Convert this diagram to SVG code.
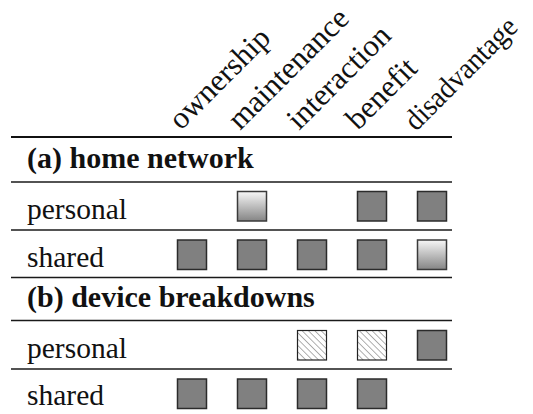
<svg xmlns="http://www.w3.org/2000/svg" width="533" height="414" viewBox="0 0 533 414">
  <defs>
    <linearGradient id="partial" x1="0" y1="0" x2="0" y2="1">
      <stop offset="0" stop-color="#f7f7f7"/>
      <stop offset="1" stop-color="#858585"/>
    </linearGradient>
    <pattern id="hatch" patternUnits="userSpaceOnUse" width="4.5" height="4.5" patternTransform="rotate(45)">
      <rect width="4.5" height="4.5" fill="#ffffff"/>
      <line x1="0" y1="2.25" x2="4.5" y2="2.25" stroke="#a8a8a8" stroke-width="0.9"/>
    </pattern>
  </defs>
  <style>
    text { font-family: 'Liberation Serif', 'Times New Roman', Times, serif; fill: #111; }
    .lbl { font-size: 29.5px; }
    .hdr { font-size: 30px; font-weight: bold; }
    .col { font-size: 31px; }
    .rule { stroke: #1a1a1a; stroke-width: 1.3; }
    .toprule { stroke: #111; stroke-width: 2.2; }
    .full { fill: #808080; stroke: #2b2b2b; stroke-width: 1.5; }
    .part { fill: url(#partial); stroke: #3a3a3a; stroke-width: 1.5; }
    .hatched { fill: url(#hatch); stroke: #222; stroke-width: 1.2; }
  </style>

  <!-- rotated column headings -->
  <g id="columns">
    <text class="col" transform="translate(181,131) rotate(-45)">ownership</text>
    <text class="col" transform="translate(240,131) rotate(-45)">maintenance</text>
    <text class="col" transform="translate(299,131) rotate(-45)">interaction</text>
    <text class="col" transform="translate(358,131) rotate(-45)">benefit</text>
    <text class="col" style="font-size:30px" transform="translate(416,132) rotate(-45)" textLength="146" lengthAdjust="spacingAndGlyphs">disadvantage</text>
  </g>

  <!-- horizontal rules -->
  <g id="rules">
    <line class="toprule" x1="11" y1="137" x2="452" y2="137"/>
    <line class="rule" x1="11" y1="182" x2="452" y2="182"/>
    <line class="rule" x1="11" y1="230" x2="452" y2="230"/>
    <line class="rule" x1="11" y1="277.5" x2="452" y2="277.5"/>
    <line class="rule" x1="11" y1="320.5" x2="452" y2="320.5"/>
    <line class="rule" x1="11" y1="369" x2="452" y2="369"/>
  </g>

  <!-- section (a) -->
  <g id="section-a">
    <text class="hdr" x="27" y="168">(a) home network</text>
  </g>
  <g id="a-personal">
    <text class="lbl" x="27" y="219">personal</text>
    <rect class="part" x="237.5" y="191.5" width="29" height="29.5"/>
    <rect class="full" x="357.5" y="191.5" width="29" height="29.5"/>
    <rect class="full" x="417.5" y="191.5" width="29" height="29.5"/>
  </g>
  <g id="a-shared">
    <text class="lbl" x="27" y="266.5">shared</text>
    <rect class="full" x="177.5" y="240" width="29" height="29.5"/>
    <rect class="full" x="237.5" y="240" width="29" height="29.5"/>
    <rect class="full" x="297.5" y="240" width="29" height="29.5"/>
    <rect class="full" x="357.5" y="240" width="29" height="29.5"/>
    <rect class="part" x="417.5" y="240" width="29" height="29.5"/>
  </g>

  <!-- section (b) -->
  <g id="section-b">
    <text class="hdr" x="27" y="307">(b) device breakdowns</text>
  </g>
  <g id="b-personal">
    <text class="lbl" x="27" y="357.5">personal</text>
    <rect class="hatched" x="297.5" y="330.5" width="29" height="29.5"/>
    <rect class="hatched" x="357.5" y="330.5" width="29" height="29.5"/>
    <rect class="full" x="417.5" y="330.5" width="29" height="29.5"/>
  </g>
  <g id="b-shared">
    <text class="lbl" x="27" y="405">shared</text>
    <rect class="full" x="177.5" y="379" width="29" height="29.5"/>
    <rect class="full" x="237.5" y="379" width="29" height="29.5"/>
    <rect class="full" x="297.5" y="379" width="29" height="29.5"/>
    <rect class="full" x="357.5" y="379" width="29" height="29.5"/>
  </g>
</svg>
